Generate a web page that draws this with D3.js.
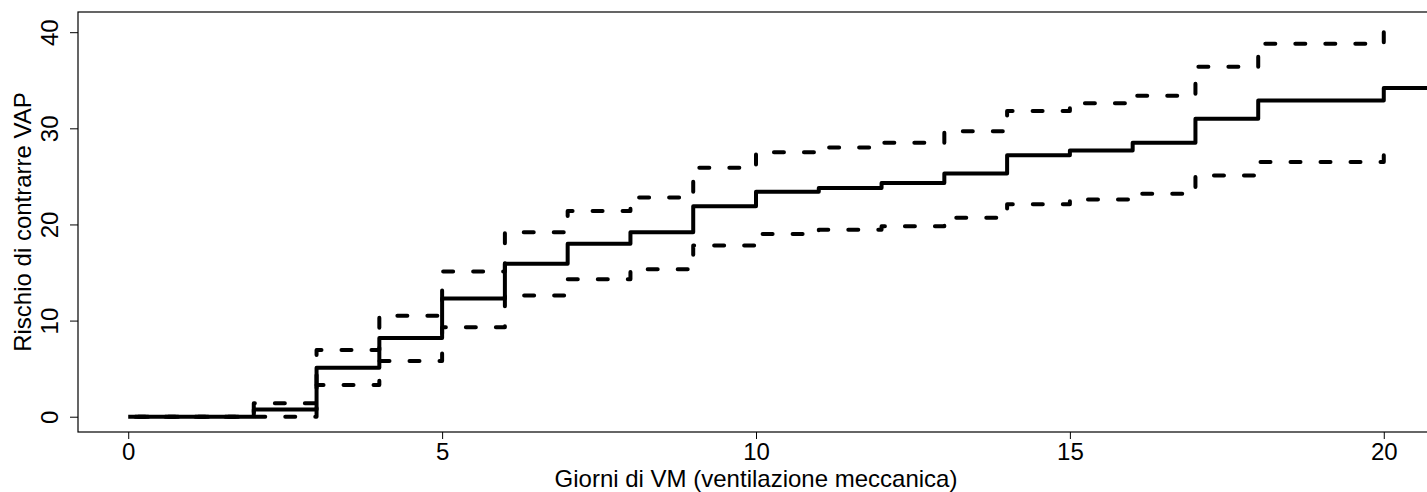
<!DOCTYPE html>
<html>
<head>
<meta charset="utf-8">
<script src="https://cdn.jsdelivr.net/npm/d3@7"></script>
<style>
  body { margin: 0; background: #fff; }
  text { font-family: "Liberation Sans", Arial, sans-serif; }
</style>
</head>
<body>
<div id="chart"></div>
<script>
// giorni di VM dove la curva cambia valore
let days = [0, 2, 3, 4, 5, 6, 7, 8, 9, 10, 11, 12, 13, 14, 15, 16, 17, 18, 20];
// rischio cumulativo (%) e limiti dell'intervallo di confidenza
let risk  = [0, 0.75, 5.1, 8.2, 12.3, 15.9, 18.0, 19.2, 21.9, 23.4, 23.8, 24.3, 25.3, 27.2, 27.7, 28.5, 31.0, 32.9, 34.2];
let upper = [0, 1.4, 6.95, 10.5, 15.1, 19.2, 21.4, 22.8, 25.9, 27.5, 28.0, 28.5, 29.7, 31.8, 32.6, 33.4, 36.4, 38.8, 40.0];
let lower = [0, 0, 3.3, 5.8, 9.3, 12.6, 14.3, 15.35, 17.8, 19.0, 19.45, 19.8, 20.7, 22.1, 22.6, 23.2, 25.1, 26.5, 27.2];
let lastDay = 20.8;  // fine osservazione della curva principale
let xTicks = [0, 5, 10, 15, 20];
let yTicks = [0, 10, 20, 30, 40];

let width = 1427, height = 492;
let plot = {left: 78, top: 12, right: 1434, bottom: 432};

let svg = d3.select("#chart")
            .append("svg")
            .attr("width", width)
            .attr("height", height);

let x = d3.scaleLinear()
          .domain([-0.8, 20.8])
          .range([plot.left, plot.right]);

let y = d3.scaleLinear()
          .domain([-1.59, 42.1])
          .range([plot.bottom, plot.top]);

svg.append("clipPath")
   .attr("id", "clip")
   .append("rect")
   .attr("x", plot.left)
   .attr("y", plot.top)
   .attr("width", plot.right - plot.left)
   .attr("height", plot.bottom - plot.top);

// x axis
let xAxis = svg.append("g")
   .attr("transform", "translate(0," + plot.bottom + ")")
   .call(d3.axisBottom(x).tickValues(xTicks).tickSize(7).tickPadding(4));
xAxis.select(".domain").remove();
xAxis.selectAll("line").attr("stroke", "#000");
xAxis.selectAll("text").style("font-size", "24px").attr("fill", "#000");

// y axis, labels parallel to the axis like R
let yAxis = svg.append("g")
   .attr("transform", "translate(" + plot.left + ",0)")
   .call(d3.axisLeft(y).tickValues(yTicks).tickSize(8));
yAxis.select(".domain").remove();
yAxis.selectAll("line").attr("stroke", "#000");
yAxis.selectAll("text")
     .attr("x", 0)
     .attr("y", -20)
     .attr("dy", 0)
     .attr("transform", "rotate(-90)")
     .attr("text-anchor", "middle")
     .attr("fill", "#000")
     .style("font-size", "24px");

// box
svg.append("rect")
   .attr("x", plot.left)
   .attr("y", plot.top)
   .attr("width", plot.right - plot.left)
   .attr("height", plot.bottom - plot.top)
   .attr("fill", "none")
   .attr("stroke", "#000")
   .attr("stroke-width", 1.2);

let step = d3.line()
             .x(d => x(d[0]))
             .y(d => y(d[1]))
             .curve(d3.curveStepAfter);

let riskPts = days.map((d, i) => [d, risk[i]]);
riskPts.push([lastDay, risk[risk.length - 1]]);

let lines = svg.append("g").attr("clip-path", "url(#clip)");

[upper, lower].forEach(function(band) {
  let p = lines.append("path")
       .datum(days.map((d, i) => [d, band[i]]))
       .attr("d", step)
       .attr("fill", "none")
       .attr("stroke", "#000")
       .attr("stroke-width", 4)
       .attr("stroke-linecap", "round")
       .attr("stroke-linejoin", "round")
       .attr("stroke-dasharray", "10,20");
  // put a dash on the last step at day 20
  let len = p.node().getTotalLength();
  p.attr("stroke-dashoffset", (((10 - len) % 30) + 30) % 30);
});

lines.append("path")
     .datum(riskPts)
     .attr("d", step)
     .attr("fill", "none")
     .attr("stroke", "#000")
     .attr("stroke-width", 4)
     .attr("stroke-linejoin", "round");

// axis titles
svg.append("text")
   .attr("x", (plot.left + plot.right) / 2)
   .attr("y", 487)
   .attr("text-anchor", "middle")
   .style("font-size", "24px")
   .text("Giorni di VM (ventilazione meccanica)");

svg.append("text")
   .attr("transform", "translate(31," + (plot.top + plot.bottom) / 2 + ") rotate(-90)")
   .attr("text-anchor", "middle")
   .style("font-size", "24px")
   .text("Rischio di contrarre VAP");
</script>
</body>
</html>
